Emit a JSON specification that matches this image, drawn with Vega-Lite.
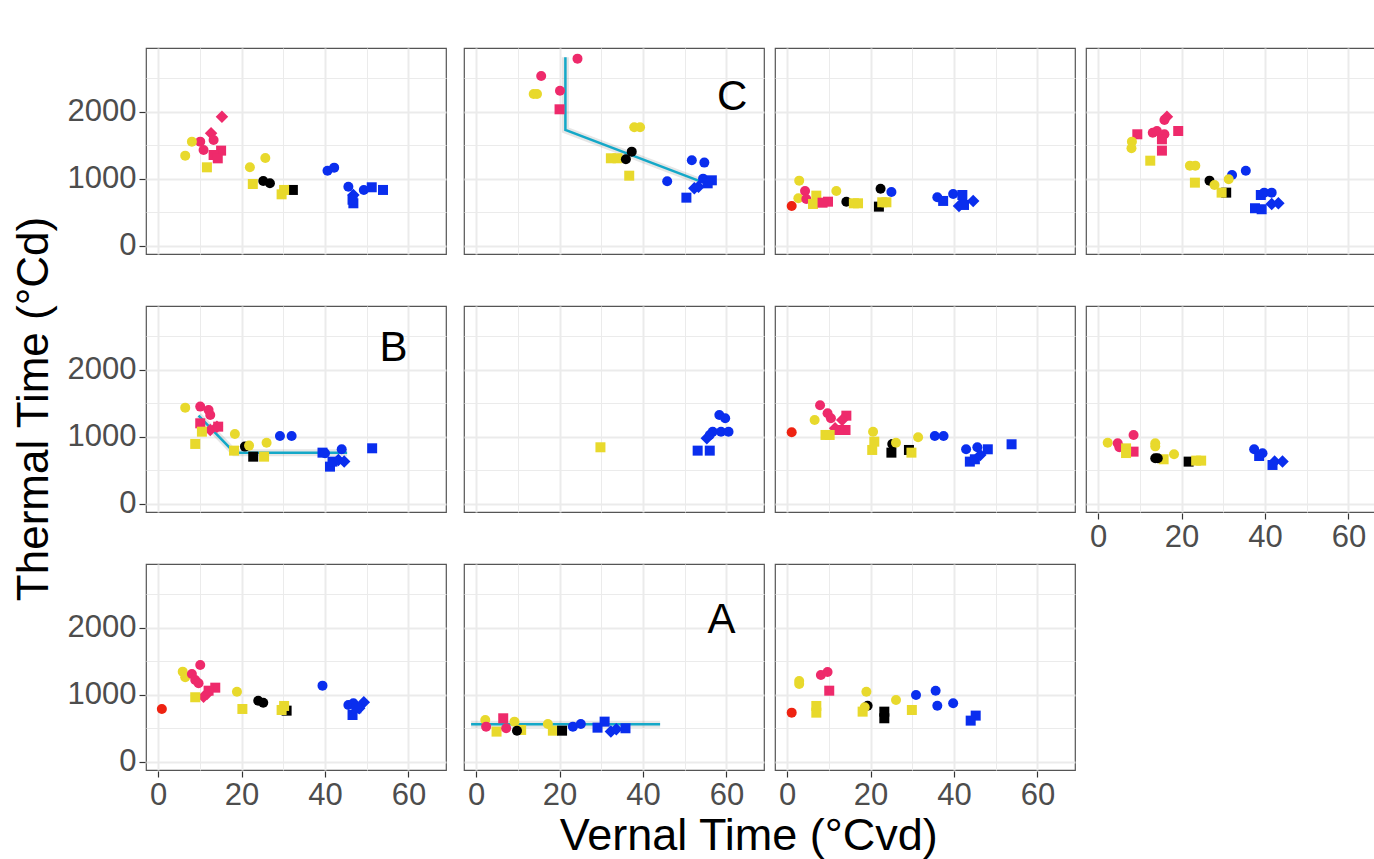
{
 "$schema": "https://vega.github.io/schema/vega-lite/v6.json",
 "autosize": {"type": "none"},
 "padding": {"left": 146, "top": 48, "right": 1228, "bottom": 811},
 "background": "white",
 "title": {"text": "Vernal Time (°Cvd)", "orient": "bottom", "anchor": "middle", "fontSize": 45, "font": "Liberation Sans", "fontWeight": "normal", "color": "black", "offset": 4, "dx": 49},
 "data": {"values": [
  {"p":"p01","k":"pt","g":"pink","s":"diamond","vt":15.3,"tt":1930},
  {"p":"p01","k":"pt","g":"pink","s":"diamond","vt":12.7,"tt":1682},
  {"p":"p01","k":"pt","g":"pink","s":"circle","vt":13.3,"tt":1582},
  {"p":"p01","k":"pt","g":"pink","s":"circle","vt":10.1,"tt":1557},
  {"p":"p01","k":"pt","g":"pink","s":"circle","vt":10.9,"tt":1433},
  {"p":"p01","k":"pt","g":"yellow","s":"circle","vt":8.1,"tt":1557},
  {"p":"p01","k":"pt","g":"yellow","s":"circle","vt":6.5,"tt":1348},
  {"p":"p01","k":"pt","g":"pink","s":"square","vt":15.1,"tt":1423},
  {"p":"p01","k":"pt","g":"pink","s":"square","vt":13.3,"tt":1358},
  {"p":"p01","k":"pt","g":"pink","s":"square","vt":14.3,"tt":1308},
  {"p":"p01","k":"pt","g":"yellow","s":"square","vt":11.7,"tt":1174},
  {"p":"p01","k":"pt","g":"yellow","s":"circle","vt":22.0,"tt":1174},
  {"p":"p01","k":"pt","g":"yellow","s":"circle","vt":25.7,"tt":1313},
  {"p":"p01","k":"pt","g":"black","s":"circle","vt":25.2,"tt":970},
  {"p":"p01","k":"pt","g":"black","s":"circle","vt":26.8,"tt":935},
  {"p":"p01","k":"pt","g":"yellow","s":"square","vt":22.7,"tt":925},
  {"p":"p01","k":"pt","g":"black","s":"square","vt":32.3,"tt":836},
  {"p":"p01","k":"pt","g":"yellow","s":"square","vt":30.2,"tt":836},
  {"p":"p01","k":"pt","g":"yellow","s":"square","vt":29.6,"tt":771},
  {"p":"p01","k":"pt","g":"blue","s":"circle","vt":40.6,"tt":1124},
  {"p":"p01","k":"pt","g":"blue","s":"circle","vt":42.2,"tt":1169},
  {"p":"p01","k":"pt","g":"blue","s":"circle","vt":45.6,"tt":885},
  {"p":"p01","k":"pt","g":"blue","s":"circle","vt":49.3,"tt":836},
  {"p":"p01","k":"pt","g":"blue","s":"square","vt":51.2,"tt":876},
  {"p":"p01","k":"pt","g":"blue","s":"square","vt":53.9,"tt":836},
  {"p":"p01","k":"pt","g":"blue","s":"diamond","vt":46.8,"tt":761},
  {"p":"p01","k":"pt","g":"blue","s":"square","vt":46.8,"tt":637},
  {"p":"p01","k":"pt","g":"blue","s":"square","vt":46.6,"tt":690},

  {"p":"p02","k":"pt","g":"pink","s":"circle","vt":24.3,"tt":2796},
  {"p":"p02","k":"pt","g":"pink","s":"circle","vt":15.6,"tt":2537},
  {"p":"p02","k":"pt","g":"yellow","s":"circle","vt":13.8,"tt":2269},
  {"p":"p02","k":"pt","g":"yellow","s":"circle","vt":14.6,"tt":2269},
  {"p":"p02","k":"pt","g":"pink","s":"circle","vt":20.1,"tt":2318},
  {"p":"p02","k":"pt","g":"pink","s":"square","vt":20.0,"tt":2040},
  {"p":"p02","k":"pt","g":"yellow","s":"circle","vt":37.9,"tt":1771},
  {"p":"p02","k":"pt","g":"yellow","s":"circle","vt":39.3,"tt":1771},
  {"p":"p02","k":"pt","g":"yellow","s":"square","vt":32.3,"tt":1309},
  {"p":"p02","k":"pt","g":"yellow","s":"square","vt":33.9,"tt":1309},
  {"p":"p02","k":"pt","g":"black","s":"circle","vt":37.3,"tt":1408},
  {"p":"p02","k":"pt","g":"black","s":"circle","vt":35.9,"tt":1294},
  {"p":"p02","k":"pt","g":"yellow","s":"square","vt":36.7,"tt":1049},
  {"p":"p02","k":"pt","g":"blue","s":"circle","vt":51.7,"tt":1279},
  {"p":"p02","k":"pt","g":"blue","s":"circle","vt":54.7,"tt":1244},
  {"p":"p02","k":"pt","g":"blue","s":"circle","vt":45.8,"tt":965},
  {"p":"p02","k":"pt","g":"blue","s":"circle","vt":54.4,"tt":1005},
  {"p":"p02","k":"pt","g":"blue","s":"square","vt":56.5,"tt":980},
  {"p":"p02","k":"pt","g":"blue","s":"square","vt":55.5,"tt":935},
  {"p":"p02","k":"pt","g":"blue","s":"diamond","vt":52.3,"tt":861},
  {"p":"p02","k":"pt","g":"blue","s":"diamond","vt":53.3,"tt":885},
  {"p":"p02","k":"pt","g":"blue","s":"square","vt":50.4,"tt":721},
  {"p":"p02","k":"ln","o":1,"vt":21.4,"tt":2816},
  {"p":"p02","k":"ln","o":2,"vt":21.4,"tt":1731},
  {"p":"p02","k":"ln","o":3,"vt":53.9,"tt":960},
  {"p":"p02","k":"tx","lab":"C","vt":61.4,"tt":2228},

  {"p":"p03","k":"pt","g":"red","s":"circle","vt":1.1,"tt":597},
  {"p":"p03","k":"pt","g":"yellow","s":"circle","vt":2.9,"tt":975},
  {"p":"p03","k":"pt","g":"yellow","s":"circle","vt":2.7,"tt":712},
  {"p":"p03","k":"pt","g":"pink","s":"circle","vt":4.3,"tt":821},
  {"p":"p03","k":"pt","g":"pink","s":"circle","vt":4.6,"tt":701},
  {"p":"p03","k":"pt","g":"yellow","s":"square","vt":7.0,"tt":751},
  {"p":"p03","k":"pt","g":"yellow","s":"square","vt":6.2,"tt":627},
  {"p":"p03","k":"pt","g":"pink","s":"square","vt":8.5,"tt":646},
  {"p":"p03","k":"pt","g":"pink","s":"square","vt":9.8,"tt":661},
  {"p":"p03","k":"pt","g":"yellow","s":"circle","vt":11.8,"tt":821},
  {"p":"p03","k":"pt","g":"black","s":"circle","vt":14.2,"tt":661},
  {"p":"p03","k":"pt","g":"yellow","s":"square","vt":16.0,"tt":637},
  {"p":"p03","k":"pt","g":"yellow","s":"square","vt":17.0,"tt":637},
  {"p":"p03","k":"pt","g":"black","s":"circle","vt":22.4,"tt":855},
  {"p":"p03","k":"pt","g":"blue","s":"circle","vt":25.0,"tt":806},
  {"p":"p03","k":"pt","g":"black","s":"square","vt":22.0,"tt":587},
  {"p":"p03","k":"pt","g":"yellow","s":"square","vt":22.8,"tt":652},
  {"p":"p03","k":"pt","g":"yellow","s":"square","vt":23.8,"tt":652},
  {"p":"p03","k":"pt","g":"blue","s":"circle","vt":36.0,"tt":726},
  {"p":"p03","k":"pt","g":"blue","s":"square","vt":37.4,"tt":672},
  {"p":"p03","k":"pt","g":"blue","s":"circle","vt":39.8,"tt":776},
  {"p":"p03","k":"pt","g":"blue","s":"square","vt":42.0,"tt":761},
  {"p":"p03","k":"pt","g":"blue","s":"diamond","vt":41.2,"tt":597},
  {"p":"p03","k":"pt","g":"blue","s":"square","vt":42.4,"tt":612},
  {"p":"p03","k":"pt","g":"blue","s":"diamond","vt":44.6,"tt":672},

  {"p":"p04","k":"pt","g":"pink","s":"diamond","vt":16.5,"tt":1930},
  {"p":"p04","k":"pt","g":"pink","s":"circle","vt":15.9,"tt":1881},
  {"p":"p04","k":"pt","g":"pink","s":"square","vt":9.4,"tt":1667},
  {"p":"p04","k":"pt","g":"pink","s":"circle","vt":13.1,"tt":1691},
  {"p":"p04","k":"pt","g":"pink","s":"circle","vt":14.1,"tt":1716},
  {"p":"p04","k":"pt","g":"pink","s":"circle","vt":15.9,"tt":1667},
  {"p":"p04","k":"pt","g":"pink","s":"square","vt":15.3,"tt":1592},
  {"p":"p04","k":"pt","g":"pink","s":"square","vt":19.2,"tt":1716},
  {"p":"p04","k":"pt","g":"pink","s":"square","vt":15.3,"tt":1423},
  {"p":"p04","k":"pt","g":"yellow","s":"circle","vt":8.1,"tt":1557},
  {"p":"p04","k":"pt","g":"yellow","s":"circle","vt":8.0,"tt":1458},
  {"p":"p04","k":"pt","g":"yellow","s":"square","vt":12.5,"tt":1273},
  {"p":"p04","k":"pt","g":"yellow","s":"circle","vt":22.0,"tt":1199},
  {"p":"p04","k":"pt","g":"yellow","s":"circle","vt":23.3,"tt":1199},
  {"p":"p04","k":"pt","g":"yellow","s":"square","vt":23.2,"tt":945},
  {"p":"p04","k":"pt","g":"black","s":"circle","vt":26.7,"tt":975},
  {"p":"p04","k":"pt","g":"yellow","s":"circle","vt":27.9,"tt":910},
  {"p":"p04","k":"pt","g":"blue","s":"circle","vt":32.1,"tt":1060},
  {"p":"p04","k":"pt","g":"yellow","s":"circle","vt":31.3,"tt":995},
  {"p":"p04","k":"pt","g":"blue","s":"circle","vt":35.4,"tt":1124},
  {"p":"p04","k":"pt","g":"black","s":"square","vt":30.7,"tt":796},
  {"p":"p04","k":"pt","g":"yellow","s":"square","vt":29.6,"tt":796},
  {"p":"p04","k":"pt","g":"blue","s":"square","vt":39.0,"tt":761},
  {"p":"p04","k":"pt","g":"blue","s":"circle","vt":39.8,"tt":796},
  {"p":"p04","k":"pt","g":"blue","s":"circle","vt":41.6,"tt":796},
  {"p":"p04","k":"pt","g":"blue","s":"diamond","vt":41.6,"tt":627},
  {"p":"p04","k":"pt","g":"blue","s":"diamond","vt":43.2,"tt":637},
  {"p":"p04","k":"pt","g":"blue","s":"square","vt":37.6,"tt":563},
  {"p":"p04","k":"pt","g":"blue","s":"square","vt":39.2,"tt":548},

  {"p":"p05","k":"pt","g":"yellow","s":"circle","vt":6.5,"tt":1438},
  {"p":"p05","k":"pt","g":"pink","s":"circle","vt":10.1,"tt":1453},
  {"p":"p05","k":"pt","g":"pink","s":"circle","vt":12.1,"tt":1403},
  {"p":"p05","k":"pt","g":"pink","s":"circle","vt":12.5,"tt":1328},
  {"p":"p05","k":"pt","g":"pink","s":"square","vt":10.1,"tt":1204},
  {"p":"p05","k":"pt","g":"pink","s":"diamond","vt":14.1,"tt":1154},
  {"p":"p05","k":"pt","g":"pink","s":"diamond","vt":12.5,"tt":1104},
  {"p":"p05","k":"pt","g":"pink","s":"square","vt":14.4,"tt":1154},
  {"p":"p05","k":"pt","g":"yellow","s":"square","vt":10.5,"tt":1079},
  {"p":"p05","k":"pt","g":"yellow","s":"square","vt":8.9,"tt":896},
  {"p":"p05","k":"pt","g":"yellow","s":"circle","vt":18.4,"tt":1045},
  {"p":"p05","k":"pt","g":"black","s":"circle","vt":20.8,"tt":856},
  {"p":"p05","k":"pt","g":"yellow","s":"circle","vt":21.8,"tt":871},
  {"p":"p05","k":"pt","g":"yellow","s":"circle","vt":26.0,"tt":915},
  {"p":"p05","k":"pt","g":"yellow","s":"square","vt":18.2,"tt":796},
  {"p":"p05","k":"pt","g":"black","s":"square","vt":22.8,"tt":706},
  {"p":"p05","k":"pt","g":"yellow","s":"square","vt":25.4,"tt":706},
  {"p":"p05","k":"pt","g":"blue","s":"circle","vt":29.2,"tt":1015},
  {"p":"p05","k":"pt","g":"blue","s":"circle","vt":32.0,"tt":1015},
  {"p":"p05","k":"pt","g":"blue","s":"square","vt":39.4,"tt":766},
  {"p":"p05","k":"pt","g":"blue","s":"circle","vt":40.0,"tt":756},
  {"p":"p05","k":"pt","g":"blue","s":"circle","vt":44.0,"tt":816},
  {"p":"p05","k":"pt","g":"blue","s":"square","vt":41.2,"tt":557},
  {"p":"p05","k":"pt","g":"blue","s":"square","vt":41.8,"tt":632},
  {"p":"p05","k":"pt","g":"blue","s":"diamond","vt":43.2,"tt":657},
  {"p":"p05","k":"pt","g":"blue","s":"diamond","vt":44.6,"tt":632},
  {"p":"p05","k":"pt","g":"blue","s":"square","vt":51.3,"tt":831},
  {"p":"p05","k":"ln","o":1,"vt":9.7,"tt":1318},
  {"p":"p05","k":"ln","o":2,"vt":18.3,"tt":766},
  {"p":"p05","k":"ln","o":3,"vt":45.3,"tt":766},
  {"p":"p05","k":"tx","lab":"B","vt":56.4,"tt":2324},

  {"p":"p06","k":"pt","g":"yellow","s":"square","vt":29.8,"tt":846},
  {"p":"p06","k":"pt","g":"blue","s":"square","vt":53.1,"tt":796},
  {"p":"p06","k":"pt","g":"blue","s":"square","vt":56.0,"tt":796},
  {"p":"p06","k":"pt","g":"blue","s":"diamond","vt":55.3,"tt":980},
  {"p":"p06","k":"pt","g":"blue","s":"circle","vt":58.3,"tt":1328},
  {"p":"p06","k":"pt","g":"blue","s":"circle","vt":59.7,"tt":1279},
  {"p":"p06","k":"pt","g":"blue","s":"circle","vt":56.7,"tt":1079},
  {"p":"p06","k":"pt","g":"blue","s":"circle","vt":58.7,"tt":1079},
  {"p":"p06","k":"pt","g":"blue","s":"circle","vt":60.5,"tt":1079},
  {"p":"p06","k":"pt","g":"blue","s":"circle","vt":56.0,"tt":1030},

  {"p":"p07","k":"pt","g":"red","s":"circle","vt":1.1,"tt":1070},
  {"p":"p07","k":"pt","g":"pink","s":"circle","vt":7.9,"tt":1473},
  {"p":"p07","k":"pt","g":"pink","s":"circle","vt":9.7,"tt":1354},
  {"p":"p07","k":"pt","g":"pink","s":"circle","vt":10.5,"tt":1279},
  {"p":"p07","k":"pt","g":"yellow","s":"circle","vt":6.6,"tt":1254},
  {"p":"p07","k":"pt","g":"pink","s":"square","vt":14.2,"tt":1318},
  {"p":"p07","k":"pt","g":"pink","s":"diamond","vt":13.2,"tt":1254},
  {"p":"p07","k":"pt","g":"pink","s":"square","vt":14.0,"tt":1104},
  {"p":"p07","k":"pt","g":"pink","s":"square","vt":12.3,"tt":1104},
  {"p":"p07","k":"pt","g":"pink","s":"diamond","vt":11.5,"tt":1129},
  {"p":"p07","k":"pt","g":"yellow","s":"square","vt":9.2,"tt":1030},
  {"p":"p07","k":"pt","g":"yellow","s":"square","vt":10.2,"tt":1030},
  {"p":"p07","k":"pt","g":"yellow","s":"circle","vt":20.6,"tt":1079},
  {"p":"p07","k":"pt","g":"yellow","s":"square","vt":20.9,"tt":930},
  {"p":"p07","k":"pt","g":"yellow","s":"square","vt":20.4,"tt":806},
  {"p":"p07","k":"pt","g":"black","s":"circle","vt":25.2,"tt":896},
  {"p":"p07","k":"pt","g":"yellow","s":"circle","vt":26.1,"tt":915},
  {"p":"p07","k":"pt","g":"black","s":"square","vt":25.0,"tt":766},
  {"p":"p07","k":"pt","g":"black","s":"square","vt":29.2,"tt":806},
  {"p":"p07","k":"pt","g":"yellow","s":"square","vt":29.8,"tt":766},
  {"p":"p07","k":"pt","g":"yellow","s":"circle","vt":31.4,"tt":995},
  {"p":"p07","k":"pt","g":"blue","s":"circle","vt":35.4,"tt":1015},
  {"p":"p07","k":"pt","g":"blue","s":"circle","vt":37.5,"tt":1015},
  {"p":"p07","k":"pt","g":"blue","s":"circle","vt":42.9,"tt":816},
  {"p":"p07","k":"pt","g":"blue","s":"circle","vt":45.6,"tt":846},
  {"p":"p07","k":"pt","g":"blue","s":"square","vt":48.1,"tt":816},
  {"p":"p07","k":"pt","g":"blue","s":"square","vt":43.8,"tt":632},
  {"p":"p07","k":"pt","g":"blue","s":"square","vt":45.0,"tt":667},
  {"p":"p07","k":"pt","g":"blue","s":"diamond","vt":46.3,"tt":731},
  {"p":"p07","k":"pt","g":"blue","s":"square","vt":53.8,"tt":891},

  {"p":"p08","k":"pt","g":"yellow","s":"circle","vt":2.3,"tt":915},
  {"p":"p08","k":"pt","g":"pink","s":"circle","vt":4.7,"tt":906},
  {"p":"p08","k":"pt","g":"pink","s":"circle","vt":5.1,"tt":846},
  {"p":"p08","k":"pt","g":"pink","s":"circle","vt":8.5,"tt":1030},
  {"p":"p08","k":"pt","g":"pink","s":"square","vt":8.5,"tt":781},
  {"p":"p08","k":"pt","g":"yellow","s":"square","vt":6.7,"tt":830},
  {"p":"p08","k":"pt","g":"yellow","s":"square","vt":6.7,"tt":760},
  {"p":"p08","k":"pt","g":"yellow","s":"circle","vt":13.7,"tt":906},
  {"p":"p08","k":"pt","g":"yellow","s":"circle","vt":13.7,"tt":860},
  {"p":"p08","k":"pt","g":"yellow","s":"square","vt":15.7,"tt":667},
  {"p":"p08","k":"pt","g":"black","s":"circle","vt":13.7,"tt":682},
  {"p":"p08","k":"pt","g":"black","s":"circle","vt":14.3,"tt":682},
  {"p":"p08","k":"pt","g":"yellow","s":"circle","vt":18.2,"tt":741},
  {"p":"p08","k":"pt","g":"black","s":"square","vt":21.7,"tt":632},
  {"p":"p08","k":"pt","g":"yellow","s":"square","vt":23.5,"tt":647},
  {"p":"p08","k":"pt","g":"yellow","s":"square","vt":24.7,"tt":647},
  {"p":"p08","k":"pt","g":"blue","s":"circle","vt":37.4,"tt":816},
  {"p":"p08","k":"pt","g":"blue","s":"circle","vt":39.4,"tt":756},
  {"p":"p08","k":"pt","g":"blue","s":"square","vt":38.6,"tt":716},
  {"p":"p08","k":"pt","g":"blue","s":"diamond","vt":42.3,"tt":632},
  {"p":"p08","k":"pt","g":"blue","s":"diamond","vt":44.2,"tt":632},
  {"p":"p08","k":"pt","g":"blue","s":"square","vt":41.8,"tt":582},

  {"p":"p09","k":"pt","g":"red","s":"circle","vt":0.9,"tt":791},
  {"p":"p09","k":"pt","g":"yellow","s":"circle","vt":5.9,"tt":1348},
  {"p":"p09","k":"pt","g":"yellow","s":"circle","vt":6.5,"tt":1264},
  {"p":"p09","k":"pt","g":"pink","s":"circle","vt":10.1,"tt":1448},
  {"p":"p09","k":"pt","g":"pink","s":"circle","vt":8.1,"tt":1313},
  {"p":"p09","k":"pt","g":"pink","s":"circle","vt":8.9,"tt":1224},
  {"p":"p09","k":"pt","g":"pink","s":"circle","vt":9.7,"tt":1174},
  {"p":"p09","k":"pt","g":"pink","s":"diamond","vt":10.9,"tt":975},
  {"p":"p09","k":"pt","g":"pink","s":"diamond","vt":11.7,"tt":1015},
  {"p":"p09","k":"pt","g":"pink","s":"square","vt":13.7,"tt":1109},
  {"p":"p09","k":"pt","g":"pink","s":"square","vt":12.1,"tt":1064},
  {"p":"p09","k":"pt","g":"yellow","s":"square","vt":8.9,"tt":966},
  {"p":"p09","k":"pt","g":"yellow","s":"circle","vt":18.9,"tt":1049},
  {"p":"p09","k":"pt","g":"yellow","s":"square","vt":20.2,"tt":791},
  {"p":"p09","k":"pt","g":"black","s":"circle","vt":24.0,"tt":915},
  {"p":"p09","k":"pt","g":"black","s":"circle","vt":25.2,"tt":885},
  {"p":"p09","k":"pt","g":"black","s":"square","vt":30.8,"tt":766},
  {"p":"p09","k":"pt","g":"yellow","s":"square","vt":30.2,"tt":836},
  {"p":"p09","k":"pt","g":"yellow","s":"square","vt":29.6,"tt":776},
  {"p":"p09","k":"pt","g":"blue","s":"circle","vt":39.4,"tt":1139},
  {"p":"p09","k":"pt","g":"blue","s":"circle","vt":45.6,"tt":851},
  {"p":"p09","k":"pt","g":"blue","s":"circle","vt":46.8,"tt":876},
  {"p":"p09","k":"pt","g":"blue","s":"diamond","vt":49.3,"tt":891},
  {"p":"p09","k":"pt","g":"blue","s":"diamond","vt":48.2,"tt":801},
  {"p":"p09","k":"pt","g":"blue","s":"square","vt":46.6,"tt":701},
  {"p":"p09","k":"pt","g":"blue","s":"square","vt":47.5,"tt":801},

  {"p":"p10","k":"pt","g":"yellow","s":"circle","vt":2.2,"tt":627},
  {"p":"p10","k":"pt","g":"pink","s":"circle","vt":2.4,"tt":527},
  {"p":"p10","k":"pt","g":"yellow","s":"square","vt":4.9,"tt":453},
  {"p":"p10","k":"pt","g":"pink","s":"square","vt":6.5,"tt":652},
  {"p":"p10","k":"pt","g":"pink","s":"circle","vt":7.2,"tt":503},
  {"p":"p10","k":"pt","g":"yellow","s":"circle","vt":9.2,"tt":602},
  {"p":"p10","k":"pt","g":"yellow","s":"square","vt":10.8,"tt":478},
  {"p":"p10","k":"pt","g":"black","s":"circle","vt":9.8,"tt":467},
  {"p":"p10","k":"pt","g":"yellow","s":"circle","vt":17.2,"tt":567},
  {"p":"p10","k":"pt","g":"yellow","s":"square","vt":18.4,"tt":467},
  {"p":"p10","k":"pt","g":"black","s":"square","vt":20.6,"tt":467},
  {"p":"p10","k":"pt","g":"blue","s":"circle","vt":23.2,"tt":527},
  {"p":"p10","k":"pt","g":"blue","s":"circle","vt":25.1,"tt":567},
  {"p":"p10","k":"pt","g":"blue","s":"square","vt":29.1,"tt":512},
  {"p":"p10","k":"pt","g":"blue","s":"square","vt":30.8,"tt":602},
  {"p":"p10","k":"pt","g":"blue","s":"diamond","vt":32.3,"tt":453},
  {"p":"p10","k":"pt","g":"blue","s":"diamond","vt":33.6,"tt":488},
  {"p":"p10","k":"pt","g":"blue","s":"square","vt":35.8,"tt":503},
  {"p":"p10","k":"ln","o":1,"vt":-1.2,"tt":562},
  {"p":"p10","k":"ln","o":2,"vt":44.1,"tt":562},
  {"p":"p10","k":"tx","lab":"A","vt":58.8,"tt":2119},

  {"p":"p11","k":"pt","g":"red","s":"circle","vt":1.1,"tt":736},
  {"p":"p11","k":"pt","g":"yellow","s":"circle","vt":2.9,"tt":1209},
  {"p":"p11","k":"pt","g":"yellow","s":"circle","vt":2.9,"tt":1164},
  {"p":"p11","k":"pt","g":"pink","s":"circle","vt":8.1,"tt":1299},
  {"p":"p11","k":"pt","g":"pink","s":"circle","vt":9.7,"tt":1343},
  {"p":"p11","k":"pt","g":"pink","s":"square","vt":10.1,"tt":1064},
  {"p":"p11","k":"pt","g":"yellow","s":"square","vt":7.0,"tt":836},
  {"p":"p11","k":"pt","g":"yellow","s":"square","vt":7.0,"tt":736},
  {"p":"p11","k":"pt","g":"yellow","s":"circle","vt":19.0,"tt":1049},
  {"p":"p11","k":"pt","g":"black","s":"circle","vt":19.3,"tt":840},
  {"p":"p11","k":"pt","g":"yellow","s":"circle","vt":18.6,"tt":816},
  {"p":"p11","k":"pt","g":"yellow","s":"square","vt":18.1,"tt":751},
  {"p":"p11","k":"pt","g":"black","s":"square","vt":23.3,"tt":751},
  {"p":"p11","k":"pt","g":"black","s":"square","vt":23.3,"tt":652},
  {"p":"p11","k":"pt","g":"yellow","s":"circle","vt":26.1,"tt":925},
  {"p":"p11","k":"pt","g":"yellow","s":"square","vt":29.9,"tt":776},
  {"p":"p11","k":"pt","g":"blue","s":"circle","vt":30.9,"tt":1000},
  {"p":"p11","k":"pt","g":"blue","s":"circle","vt":35.6,"tt":1064},
  {"p":"p11","k":"pt","g":"blue","s":"circle","vt":36.0,"tt":840},
  {"p":"p11","k":"pt","g":"blue","s":"circle","vt":39.8,"tt":876},
  {"p":"p11","k":"pt","g":"blue","s":"square","vt":45.2,"tt":692},
  {"p":"p11","k":"pt","g":"blue","s":"square","vt":44.0,"tt":617}
 ]},
 "spacing": -1,
 "hconcat": [
  {
   "transform": [{"filter": "indexof(['p01','p05','p09'], datum.p) >= 0"}],
   "facet": {"row": {"field": "p", "type": "nominal", "header": {"labelExpr": "''", "labelPadding": 0, "title": "Thermal Time (°Cd)", "titleOrient": "left", "titleFontSize": 44, "titleFont": "Liberation Sans", "titleFontWeight": "normal", "titleColor": "black", "titlePadding": -10}}},
   "spacing": 50,
   "spec": {
    "width": 300, "height": 206,
    "encoding": {
     "x": {"field": "vt", "type": "quantitative", "scale": {"domain": [-2.9, 69], "nice": false, "zero": false},
       "axis": {"title": null, "values": [0, 10, 20, 30, 40, 50, 60], "labelExpr": "datum.value % 20 === 0 ? datum.label : ''",
         "gridWidth": {"condition": {"test": "datum.value % 20 === 0", "value": 2}, "value": 1},
         "tickOpacity": {"condition": {"test": "datum.value % 20 === 0", "value": 1}, "value": 0}}},
     "y": {"field": "tt", "type": "quantitative", "scale": {"domain": [-120, 2955], "nice": false, "zero": false},
       "axis": {"title": null, "format": "d", "values": [0, 500, 1000, 1500, 2000, 2500], "labelExpr": "datum.value % 1000 === 0 ? datum.label : ''",
         "gridWidth": {"condition": {"test": "datum.value % 1000 === 0", "value": 2}, "value": 1},
         "tickOpacity": {"condition": {"test": "datum.value % 1000 === 0", "value": 1}, "value": 0}}}
    },
    "layer": [
     {"transform": [{"filter": "datum.k === 'ln'"}], "mark": {"type": "line", "color": "#777777", "opacity": 0.18, "strokeWidth": 7}, "encoding": {"order": {"field": "o", "type": "quantitative"}}},
     {"transform": [{"filter": "datum.k === 'ln'"}], "mark": {"type": "line", "color": "#14A8C8", "strokeWidth": 2.5}, "encoding": {"order": {"field": "o", "type": "quantitative"}}},
     {"transform": [{"filter": "datum.k === 'pt'"}], "mark": {"type": "point", "filled": true, "opacity": 1, "strokeWidth": 0, "size": 100},
      "encoding": {
       "color": {"field": "g", "type": "nominal", "legend": null, "scale": {"domain": ["red", "pink", "yellow", "black", "blue"], "range": ["#EE2211", "#EE2A6B", "#E8D92C", "#000000", "#0A2EEE"]}},
       "shape": {"field": "s", "type": "nominal", "legend": null, "scale": {"domain": ["circle", "square", "diamond"], "range": ["circle", "square", "M0,-1.25L1.25,0L0,1.25L-1.25,0Z"]}}}},
     {"transform": [{"filter": "datum.k === 'tx'"}], "mark": {"type": "text", "fontSize": 42, "font": "Liberation Sans", "color": "black", "align": "center", "baseline": "middle"}, "encoding": {"text": {"field": "lab"}}}
    ]
   }
  },
  {
   "transform": [{"filter": "indexof(['p02','p06','p10'], datum.p) >= 0"}],
   "facet": {"row": {"field": "p", "type": "nominal", "header": {"labelExpr": "''", "labelPadding": 0, "title": null}}},
   "spacing": 50,
   "spec": {
    "width": 300, "height": 206,
    "encoding": {
     "x": {"field": "vt", "type": "quantitative", "scale": {"domain": [-2.9, 69], "nice": false, "zero": false},
       "axis": {"title": null, "values": [0, 10, 20, 30, 40, 50, 60], "labelExpr": "datum.value % 20 === 0 ? datum.label : ''",
         "gridWidth": {"condition": {"test": "datum.value % 20 === 0", "value": 2}, "value": 1},
         "tickOpacity": {"condition": {"test": "datum.value % 20 === 0", "value": 1}, "value": 0}}},
     "y": {"field": "tt", "type": "quantitative", "scale": {"domain": [-120, 2955], "nice": false, "zero": false},
       "axis": {"title": null, "labels": false, "ticks": false, "values": [0, 500, 1000, 1500, 2000, 2500],
         "gridWidth": {"condition": {"test": "datum.value % 1000 === 0", "value": 2}, "value": 1}}}
    },
    "layer": [
     {"transform": [{"filter": "datum.k === 'ln'"}], "mark": {"type": "line", "color": "#777777", "opacity": 0.18, "strokeWidth": 7}, "encoding": {"order": {"field": "o", "type": "quantitative"}}},
     {"transform": [{"filter": "datum.k === 'ln'"}], "mark": {"type": "line", "color": "#14A8C8", "strokeWidth": 2.5}, "encoding": {"order": {"field": "o", "type": "quantitative"}}},
     {"transform": [{"filter": "datum.k === 'pt'"}], "mark": {"type": "point", "filled": true, "opacity": 1, "strokeWidth": 0, "size": 100},
      "encoding": {
       "color": {"field": "g", "type": "nominal", "legend": null, "scale": {"domain": ["red", "pink", "yellow", "black", "blue"], "range": ["#EE2211", "#EE2A6B", "#E8D92C", "#000000", "#0A2EEE"]}},
       "shape": {"field": "s", "type": "nominal", "legend": null, "scale": {"domain": ["circle", "square", "diamond"], "range": ["circle", "square", "M0,-1.25L1.25,0L0,1.25L-1.25,0Z"]}}}},
     {"transform": [{"filter": "datum.k === 'tx'"}], "mark": {"type": "text", "fontSize": 42, "font": "Liberation Sans", "color": "black", "align": "center", "baseline": "middle"}, "encoding": {"text": {"field": "lab"}}}
    ]
   }
  },
  {
   "transform": [{"filter": "indexof(['p03','p07','p11'], datum.p) >= 0"}],
   "facet": {"row": {"field": "p", "type": "nominal", "header": {"labelExpr": "''", "labelPadding": 0, "title": null}}},
   "spacing": 50,
   "spec": {
    "width": 300, "height": 206,
    "encoding": {
     "x": {"field": "vt", "type": "quantitative", "scale": {"domain": [-2.9, 69], "nice": false, "zero": false},
       "axis": {"title": null, "values": [0, 10, 20, 30, 40, 50, 60], "labelExpr": "datum.value % 20 === 0 ? datum.label : ''",
         "gridWidth": {"condition": {"test": "datum.value % 20 === 0", "value": 2}, "value": 1},
         "tickOpacity": {"condition": {"test": "datum.value % 20 === 0", "value": 1}, "value": 0}}},
     "y": {"field": "tt", "type": "quantitative", "scale": {"domain": [-120, 2955], "nice": false, "zero": false},
       "axis": {"title": null, "labels": false, "ticks": false, "values": [0, 500, 1000, 1500, 2000, 2500],
         "gridWidth": {"condition": {"test": "datum.value % 1000 === 0", "value": 2}, "value": 1}}}
    },
    "layer": [
     {"transform": [{"filter": "datum.k === 'pt'"}], "mark": {"type": "point", "filled": true, "opacity": 1, "strokeWidth": 0, "size": 100},
      "encoding": {
       "color": {"field": "g", "type": "nominal", "legend": null, "scale": {"domain": ["red", "pink", "yellow", "black", "blue"], "range": ["#EE2211", "#EE2A6B", "#E8D92C", "#000000", "#0A2EEE"]}},
       "shape": {"field": "s", "type": "nominal", "legend": null, "scale": {"domain": ["circle", "square", "diamond"], "range": ["circle", "square", "M0,-1.25L1.25,0L0,1.25L-1.25,0Z"]}}}}
    ]
   }
  },
  {
   "transform": [{"filter": "indexof(['p04','p08'], datum.p) >= 0"}],
   "facet": {"row": {"field": "p", "type": "nominal", "header": {"labelExpr": "''", "labelPadding": 0, "title": null}}},
   "spacing": 50,
   "spec": {
    "width": 300, "height": 206,
    "encoding": {
     "x": {"field": "vt", "type": "quantitative", "scale": {"domain": [-2.9, 69], "nice": false, "zero": false},
       "axis": {"title": null, "values": [0, 10, 20, 30, 40, 50, 60], "labelExpr": "datum.value % 20 === 0 ? datum.label : ''",
         "gridWidth": {"condition": {"test": "datum.value % 20 === 0", "value": 2}, "value": 1},
         "tickOpacity": {"condition": {"test": "datum.value % 20 === 0", "value": 1}, "value": 0}}},
     "y": {"field": "tt", "type": "quantitative", "scale": {"domain": [-120, 2955], "nice": false, "zero": false},
       "axis": {"title": null, "labels": false, "ticks": false, "values": [0, 500, 1000, 1500, 2000, 2500],
         "gridWidth": {"condition": {"test": "datum.value % 1000 === 0", "value": 2}, "value": 1}}}
    },
    "layer": [
     {"transform": [{"filter": "datum.k === 'pt'"}], "mark": {"type": "point", "filled": true, "opacity": 1, "strokeWidth": 0, "size": 100},
      "encoding": {
       "color": {"field": "g", "type": "nominal", "legend": null, "scale": {"domain": ["red", "pink", "yellow", "black", "blue"], "range": ["#EE2211", "#EE2A6B", "#E8D92C", "#000000", "#0A2EEE"]}},
       "shape": {"field": "s", "type": "nominal", "legend": null, "scale": {"domain": ["circle", "square", "diamond"], "range": ["circle", "square", "M0,-1.25L1.25,0L0,1.25L-1.25,0Z"]}}}}
    ]
   }
  }
 ],
 "config": {
  "font": "Liberation Sans",
  "view": {"stroke": "#555555", "strokeWidth": 1.2},
  "axis": {"domain": false, "grid": true, "gridColor": "#EBEBEB", "tickColor": "#333333", "tickSize": 6, "tickWidth": 1.2,
    "labelFont": "Liberation Sans", "labelFontSize": 31, "labelColor": "#4D4D4D", "labelPadding": 3}
 }
}
